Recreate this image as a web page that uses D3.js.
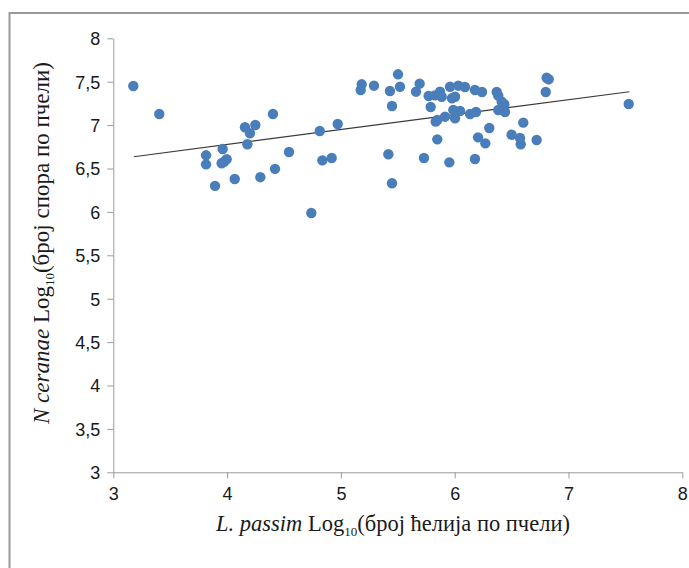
<!DOCTYPE html>
<html><head><meta charset="utf-8">
<script src="https://cdnjs.cloudflare.com/ajax/libs/d3/7.8.5/d3.min.js"></script>
<style>body{margin:0;background:#fff}svg{display:block}</style>
</head><body><svg id="c" width="689" height="568"></svg>
<script>
const xVals = [3.176,3.404,3.815,3.815,3.961,3.952,3.996,3.975,3.894,4.067,4.157,4.201,4.248,4.178,4.292,4.403,4.421,4.544,4.740,4.814,4.837,4.919,4.972,
5.183,5.174,5.291,5.502,5.519,5.431,5.449,5.692,5.660,5.417,5.449,5.730,5.789,5.771,5.827,5.871,5.886,5.959,6.032,6.090,5.976,6.003,5.847,5.847,5.833,5.915,5.988,6.047,6.003,6.135,6.187,6.178,6.240,6.369,6.383,6.413,6.436,6.383,6.442,6.304,6.205,6.269,6.178,5.953,6.500,6.574,6.580,6.603,6.720,6.808,6.826,6.800,7.529];
const yVals = [7.45,7.128,6.652,6.548,6.725,6.56,6.606,6.58,6.30,6.379,6.975,6.906,7.001,6.779,6.40,7.128,6.496,6.69,5.987,6.932,6.594,6.621,7.013,
7.47,7.404,7.454,7.585,7.442,7.393,7.22,7.477,7.385,6.664,6.33,6.621,7.209,7.335,7.343,7.385,7.327,7.442,7.454,7.439,7.309,7.327,6.836,7.059,7.04,7.097,7.174,7.162,7.078,7.128,7.151,7.404,7.381,7.381,7.339,7.27,7.24,7.174,7.151,6.967,6.859,6.79,6.609,6.571,6.889,6.851,6.779,7.028,6.828,7.546,7.528,7.381,7.243];
const trendX = [3.18, 7.535];
const trendY = [6.636, 7.385];
const xTicks = [3,4,5,6,7,8];
const yTicks = [3,3.5,4,4.5,5,5.5,6,6.5,7,7.5,8];

const svg = d3.select("#c");
svg.append("rect").attr("x",9.5).attr("y",13).attr("width",700).attr("height",600)
  .attr("fill","none").attr("stroke","#9a9a9a").attr("stroke-width",2);

const x = d3.scaleLinear().domain([3,8]).range([113.3,682.3]);
const y = d3.scaleLinear().domain([3,8]).range([472.3,38.3]);
const fmt = d => String(d).replace(".", ",");

const gx = svg.append("g").attr("transform","translate(0,472.3)")
  .call(d3.axisBottom(x).tickValues(xTicks).tickSize(6).tickSizeOuter(0).tickFormat(fmt));
const gy = svg.append("g").attr("transform","translate(113.3,0)")
  .call(d3.axisLeft(y).tickValues(yTicks).tickSize(6).tickSizeOuter(0).tickFormat(fmt));
[gx,gy].forEach(g=>{
  g.select(".domain").attr("stroke","#9a9a9a").attr("stroke-width",1);
  g.selectAll(".tick line").attr("stroke","#9a9a9a");
  g.selectAll(".tick text").attr("fill","#1a1a1a").style("font-family","'Liberation Sans',Arial,sans-serif").style("font-size","18px");
});
gx.selectAll(".tick text").attr("y",15).attr("dy","0.71em");
gy.selectAll(".tick text").attr("x",-13).attr("dy","0.35em");

svg.append("line").attr("x1",x(trendX[0])).attr("y1",y(trendY[0]))
  .attr("x2",x(trendX[1])).attr("y2",y(trendY[1]))
  .attr("stroke","#3a3a3a").attr("stroke-width",1.1);

svg.append("g").selectAll("circle").data(xVals.map((v,i)=>[v,yVals[i]])).join("circle")
  .attr("cx",d=>x(d[0])).attr("cy",d=>y(d[1])).attr("r",5.2).attr("fill","#4a7ebb");

const serif = "'Liberation Serif','Times New Roman',serif";
const xt = svg.append("text").attr("x",393).attr("y",531).attr("text-anchor","middle")
  .style("font-family",serif).style("font-size","22.5px").attr("fill","#1a1a1a");
xt.append("tspan").style("font-style","italic").text("L. passim");
xt.append("tspan").text(" Log");
xt.append("tspan").attr("dy",5).style("font-size","13px").text("10");
xt.append("tspan").attr("dy",-5).text("(број ћелија по пчели)");

const yt = svg.append("text").attr("transform","translate(49,243) rotate(-90)").attr("text-anchor","middle")
  .style("font-family",serif).style("font-size","23px").attr("fill","#1a1a1a");
yt.append("tspan").style("font-style","italic").text("N ceranae");
yt.append("tspan").text(" Log");
yt.append("tspan").attr("dy",5).style("font-size","13px").text("10");
yt.append("tspan").attr("dy",-5).text("(број спора по пчели)");
</script></body></html>
